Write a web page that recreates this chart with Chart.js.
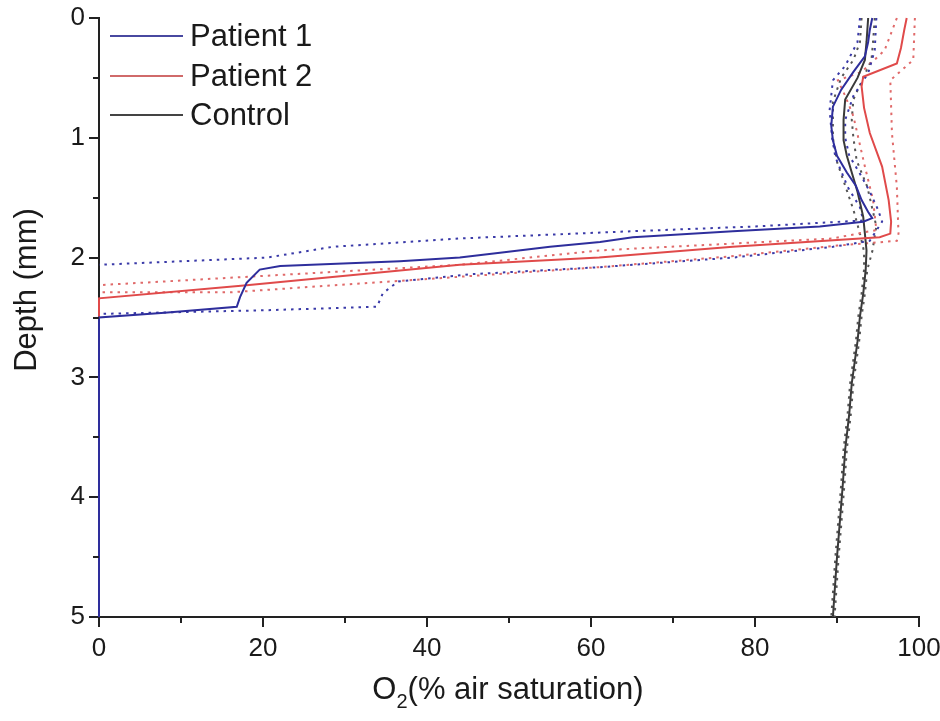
<!DOCTYPE html>
<html>
<head>
<meta charset="utf-8">
<script src="https://cdn.jsdelivr.net/npm/chart.js@4.4.1/dist/chart.umd.min.js"></script>
<style>
  html, body { margin: 0; padding: 0; background: #ffffff; }
  #wrap { width: 940px; height: 721px; }
</style>
</head>
<body>
<div id="wrap"><canvas id="c" width="940" height="721"></canvas></div>
<script>
// ---- Data (O2 % air saturation vs depth mm) ----
const xTicks = [0, 20, 40, 60, 80, 100];
const yTicks = [0, 1, 2, 3, 4, 5];
const legendNames = ['Patient 1', 'Patient 2', 'Control'];

// Patient 1 mean
const p1Depth = [0, 0.1, 0.2, 0.32, 0.45, 0.6, 0.74, 0.9, 1.02, 1.15, 1.29, 1.4, 1.52, 1.62, 1.67, 1.70, 1.74, 1.78, 1.83, 1.87, 1.91, 1.96, 2.0, 2.03, 2.07, 2.10, 2.21, 2.33, 2.41, 2.46, 2.5, 5];
const p1O2    = [94.3, 94.0, 93.8, 93.4, 92.0, 90.5, 89.5, 89.3, 89.5, 90.0, 91.2, 92.3, 93.0, 93.8, 94.3, 93.2, 87.9, 77.3, 65.1, 61.1, 55.0, 48.9, 44.0, 36.7, 22.1, 19.6, 18.0, 17.2, 16.8, 8.0, 0, 0];
// Patient 1 bounds
const p1aDepth = [0, 0.2, 0.4, 0.52, 0.77, 1.0, 1.16, 1.41, 1.58, 1.69, 1.74, 1.78, 1.84, 1.91, 2.0, 2.06];
const p1aO2    = [92.8, 92.5, 91.0, 89.5, 89.1, 89.4, 89.8, 91.3, 92.8, 93.2, 80.0, 65.0, 44.0, 28.5, 20.5, 0];
const p1bDepth = [0, 0.27, 0.46, 0.65, 0.85, 1.0, 1.15, 1.3, 1.45, 1.6, 1.70, 1.86, 1.91, 2.0, 2.08, 2.14, 2.2, 2.25, 2.3, 2.41, 2.44, 2.47];
const p1bO2    = [94.8, 94.6, 93.8, 92.0, 91.0, 91.0, 91.5, 92.8, 94.0, 95.0, 95.5, 94.0, 89.5, 77.3, 61.1, 45.0, 36.5, 35.5, 34.6, 33.9, 20.0, 0];

// Patient 2 mean
const p2Depth = [0, 0.1, 0.25, 0.38, 0.49, 0.57, 0.75, 0.96, 1.24, 1.52, 1.7, 1.8, 1.83, 1.91, 2.0, 2.06, 2.23, 2.34, 5];
const p2O2    = [98.5, 98.2, 97.8, 97.3, 93.2, 93.0, 93.3, 94.0, 95.5, 96.3, 96.6, 96.5, 95.2, 77.3, 61.0, 44.0, 18.0, 0, 0];
// Patient 2 bounds
const p2aDepth = [0, 0.27, 0.45, 0.52, 0.65, 0.82, 1.24, 1.52, 1.77, 1.84, 1.94, 2.06, 2.12, 2.23];
const p2aO2    = [97.3, 95.8, 93.0, 90.1, 91.0, 92.0, 93.4, 94.4, 94.8, 89.5, 61.0, 44.0, 28.5, 0];
const p2bDepth = [0, 0.35, 0.52, 0.96, 1.41, 1.80, 1.86, 1.9, 1.99, 2.08, 2.16, 2.29, 2.29];
const p2bO2    = [99.5, 99.3, 96.5, 96.7, 97.3, 97.5, 97.3, 90.0, 77.0, 61.0, 44.0, 16.0, 0];

// Control mean
const ctrlDepth = [0, 0.2, 0.35, 0.5, 0.68, 0.85, 1.02, 1.15, 1.29, 1.45, 1.66, 1.8, 1.94, 2.1, 2.3, 2.49, 2.7, 2.9, 3.05, 3.3, 3.6, 3.9, 4.16, 4.5, 4.8, 5];
const ctrlO2    = [93.8, 93.6, 93.4, 92.5, 91.0, 90.8, 90.8, 91.2, 91.8, 92.5, 93.2, 93.4, 93.6, 93.5, 93.2, 92.8, 92.5, 92.1, 91.8, 91.5, 91.0, 90.7, 90.4, 90.0, 89.7, 89.5];
// Control bounds
const ctrlLoDepth = [0, 0.2, 0.35, 0.5, 0.7, 1.0, 1.2, 1.4, 1.6, 1.8, 1.95, 2.1, 2.3, 2.49, 2.7, 2.9, 3.05, 3.3, 3.6, 3.9, 4.16, 4.5, 4.8, 5];
const ctrlLoO2    = [93.0, 92.8, 92.0, 90.5, 89.5, 89.5, 90.0, 91.0, 92.0, 92.8, 93.3, 93.3, 93.0, 92.6, 92.3, 91.9, 91.6, 91.3, 90.8, 90.5, 90.2, 89.8, 89.5, 89.3];
const ctrlHiDepth = [0, 0.2, 0.35, 0.5, 0.68, 0.85, 1.0, 1.19, 1.41, 1.74, 1.95, 2.1, 2.3, 2.49, 2.7, 2.9, 3.05, 3.3, 3.6, 3.9, 4.16, 4.5, 4.8, 5];
const ctrlHiO2    = [94.6, 94.4, 94.2, 93.2, 92.0, 91.8, 92.0, 92.4, 93.7, 94.8, 94.3, 93.7, 93.4, 93.0, 92.7, 92.3, 92.0, 91.7, 91.2, 90.9, 90.6, 90.2, 89.9, 89.7];

// ---- Build ----
const FONT = "'Liberation Sans', Arial, Helvetica, sans-serif";
const BLUE = '#2e2e9c', RED = '#e04a4a', BLACK = '#3a3a3a';
const BLUE_D = '#3a3aa8', RED_D = '#e06a6a', GRAY_D = '#555555';

function pts(xs, ys) { return xs.map((x, i) => ({ x: x, y: ys[i] })); }
function solid(label, xs, ys, color) {
  return { label, data: pts(xs, ys), showLine: true, borderColor: color, backgroundColor: color,
    borderWidth: 2, pointRadius: 0, tension: 0, clip: 6 };
}
function dotted(label, xs, ys, color) {
  return { label, data: pts(xs, ys), showLine: true, borderColor: color, backgroundColor: color,
    borderWidth: 2, borderDash: [2.5, 5], pointRadius: 0, tension: 0, clip: 6 };
}

const datasets = [
  solid(legendNames[0], p1O2, p1Depth, BLUE),
  solid(legendNames[1], p2O2, p2Depth, RED),
  solid(legendNames[2], ctrlO2, ctrlDepth, BLACK),
  dotted('Patient 1 bound a', p1aO2, p1aDepth, BLUE_D),
  dotted('Patient 1 bound b', p1bO2, p1bDepth, BLUE_D),
  dotted('Patient 2 bound a', p2aO2, p2aDepth, RED_D),
  dotted('Patient 2 bound b', p2bO2, p2bDepth, RED_D),
  dotted('Control bound a', ctrlLoO2, ctrlLoDepth, GRAY_D),
  dotted('Control bound b', ctrlHiO2, ctrlHiDepth, GRAY_D)
];

const decor = {
  id: 'decor',
  afterDraw(chart) {
    const ctx = chart.ctx;
    const xs = chart.scales.x, ys = chart.scales.y;
    const area = chart.chartArea;
    ctx.save();
    // minor ticks
    ctx.strokeStyle = '#222';
    ctx.lineWidth = 2;
    [0.5, 1.5, 2.5, 3.5, 4.5].forEach(v => {
      const y = Math.round(ys.getPixelForValue(v));
      ctx.beginPath(); ctx.moveTo(area.left, y); ctx.lineTo(area.left - 6, y); ctx.stroke();
    });
    [10, 30, 50, 70, 90].forEach(v => {
      const x = Math.round(xs.getPixelForValue(v));
      ctx.beginPath(); ctx.moveTo(x, area.bottom); ctx.lineTo(x, area.bottom + 6); ctx.stroke();
    });
    // legend
    ctx.font = '31px ' + FONT;
    ctx.textBaseline = 'middle';
    ctx.textAlign = 'left';
    const legY = [36, 76, 115];
    const legColors = ['#4848a0', '#d06a6a', '#444444'];
    legendNames.forEach((name, i) => {
      ctx.strokeStyle = legColors[i];
      ctx.lineWidth = 2;
      ctx.beginPath(); ctx.moveTo(110, legY[i]); ctx.lineTo(183, legY[i]); ctx.stroke();
      ctx.fillStyle = '#1a1a1a';
      ctx.fillText(name, 190, legY[i] + 1);
    });
    // y title
    ctx.save();
    ctx.translate(27, 290);
    ctx.rotate(-Math.PI / 2);
    ctx.textAlign = 'center';
    ctx.font = '31px ' + FONT;
    ctx.fillStyle = '#1a1a1a';
    ctx.fillText('Depth (mm)', 0, 0);
    ctx.restore();
    // x title with subscript
    const big = '31px ' + FONT, small = '20px ' + FONT;
    const a = 'O', b = '2', c = '(% air saturation)';
    ctx.font = big; const wa = ctx.measureText(a).width; const wc = ctx.measureText(c).width;
    ctx.font = small; const wb = ctx.measureText(b).width;
    const total = wa + wb + wc;
    let x0 = 508 - total / 2;
    const yb = 690;
    ctx.fillStyle = '#1a1a1a';
    ctx.textAlign = 'left';
    ctx.font = big; ctx.fillText(a, x0, yb);
    ctx.font = small; ctx.fillText(b, x0 + wa, yb + 12);
    ctx.font = big; ctx.fillText(c, x0 + wa + wb, yb);
    ctx.restore();
  }
};

new Chart(document.getElementById('c'), {
  type: 'scatter',
  data: { datasets },
  options: {
    responsive: false,
    animation: false,
    devicePixelRatio: 1,
    layout: { padding: { left: 0, right: 21, top: 18, bottom: 0 } },
    plugins: { legend: { display: false }, tooltip: { enabled: false } },
    scales: {
      x: {
        type: 'linear', min: 0, max: 100,
        afterBuildTicks: (s) => { s.ticks = xTicks.map(v => ({ value: v })); },
        afterFit: (s) => { s.height = 104; s.paddingLeft = 0; s.paddingRight = 0; },
        ticks: { font: { family: FONT, size: 26 }, color: '#1a1a1a', padding: 6, maxRotation: 0 },
        grid: { drawOnChartArea: false, drawTicks: true, tickLength: 10, color: '#222', lineWidth: 2 },
        border: { color: '#222', width: 2 },
        title: { display: false }
      },
      y: {
        type: 'linear', min: 0, max: 5, reverse: true,
        afterBuildTicks: (s) => { s.ticks = yTicks.map(v => ({ value: v })); },
        afterFit: (s) => { s.width = 99; s.paddingTop = 0; s.paddingBottom = 0; },
        ticks: { font: { family: FONT, size: 26 }, color: '#1a1a1a', padding: 4 },
        grid: { drawOnChartArea: false, drawTicks: true, tickLength: 10, color: '#222', lineWidth: 2 },
        border: { color: '#222', width: 2 },
        title: { display: false }
      }
    }
  },
  plugins: [decor]
});
</script>
</body>
</html>
